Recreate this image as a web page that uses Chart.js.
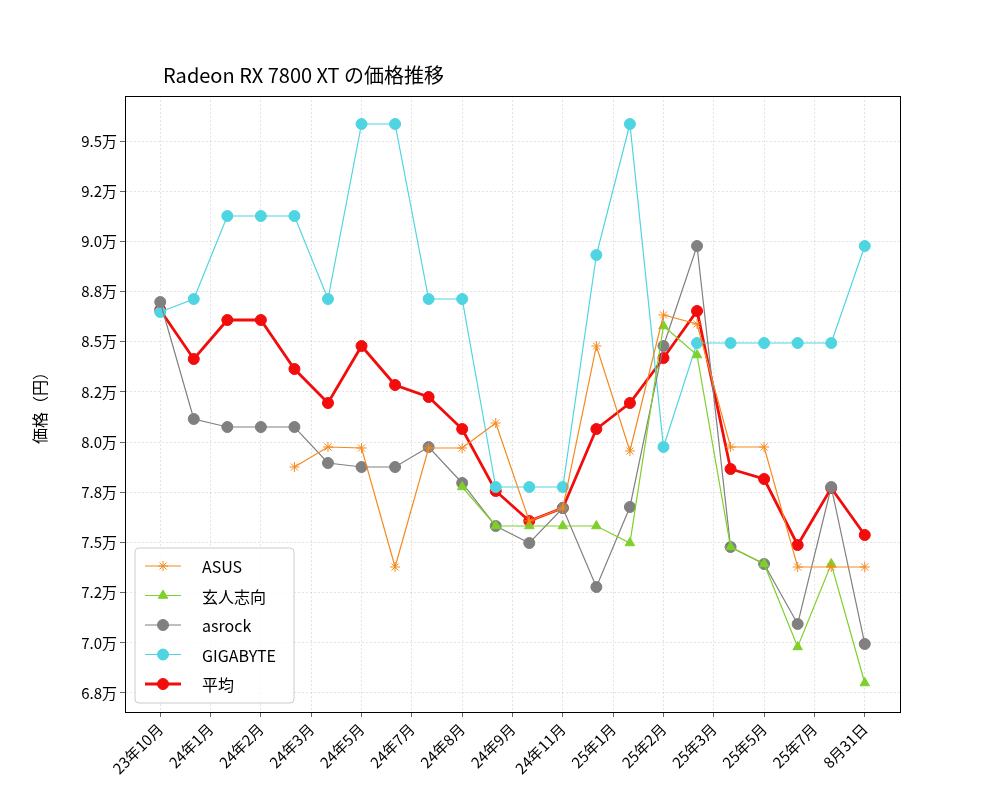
<!DOCTYPE html>
<html><head><meta charset="utf-8">
<script src="https://cdn.jsdelivr.net/npm/chart.js@4.4.0/dist/chart.umd.min.js"></script>
<style>body{margin:0;background:#fff}canvas{display:block}</style>
</head><body>
<canvas id="c" width="1000" height="800"></canvas>
<script>
const titleText = "Radeon RX 7800 XT の価格推移";
const yAxisTitle = "価格（円）";
const xTickLabels = ["23年10月","24年1月","24年2月","24年3月","24年5月","24年7月","24年8月","24年9月","24年11月","25年1月","25年2月","25年3月","25年5月","25年7月","8月31日"];
const yTickValues = [67500,70000,72500,75000,77500,80000,82500,85000,87500,90000,92500,95000];
const yTickLabels = ["6.8万","7.0万","7.2万","7.5万","7.8万","8.0万","8.2万","8.5万","8.8万","9.0万","9.2万","9.5万"];
const asus = [null,null,null,null,78759,79756,79706,73777,79706,79706,80951,76069,76717,84788,79556,86332,85884,79756,79756,73777,73777,73777];
const kurouto = [null,null,null,null,null,null,null,null,null,77763,75820,75820,75820,75820,74973,85784,84339,74774,73927,69792,73927,67998];
const asrock = [86980,81151,80752,80752,80752,78959,78759,78759,79756,77962,75820,74973,76717,72781,76767,84788,89770,74774,73927,70938,77763,69941];
const gigabyte = [86481,87129,91264,91264,91264,87129,95848,95848,87129,87129,77763,77763,77763,89321,95848,79756,84937,84937,84937,84937,84937,89770];
const average = [86581,84140,86083,86083,83642,81948,84788,82845,82247,80652,77564,76069,76717,80652,81948,84190,86531,78660,78161,74873,77713,75372];

const toPts = a => a.map((v,i)=>({x:i,y:v}));
const ds = (label, data, color, style, lw, r) => ({label, data: toPts(data), borderColor: color, backgroundColor: color,
  pointStyle: style, borderWidth: lw, pointRadius: r, pointHoverRadius: r, pointBorderWidth: 1, spanGaps: false, tension: 0});

const overlay = {
  id: 'overlay',
  afterDraw(chart) {
    const ctx = chart.ctx, a = chart.chartArea;
    ctx.save();
    ctx.strokeStyle = '#000'; ctx.lineWidth = 1;
    ctx.strokeRect(a.left+0.5, a.top+0.5, a.right-a.left, a.bottom-a.top);
    ctx.fillStyle = '#000';
    ctx.font = '20px "Noto Sans CJK JP"';
    ctx.textBaseline = 'alphabetic';
    ctx.fillText(titleText, 163, 83);
    ctx.save();
    ctx.translate(40, 404); ctx.rotate(-Math.PI/2);
    ctx.font = '16px "Noto Sans CJK JP"'; ctx.textAlign = 'center'; ctx.textBaseline = 'middle';
    ctx.fillText(yAxisTitle, 0, 0);
    ctx.restore();
    // legend
    const lx = 135, ly = 548, lw = 159, lh = 155;
    ctx.fillStyle = 'rgba(255,255,255,0.8)';
    ctx.strokeStyle = '#ccc';
    ctx.beginPath(); ctx.roundRect(lx, ly, lw, lh, 4); ctx.fill(); ctx.stroke();
    ctx.font = '16px "Noto Sans CJK JP"';
    ctx.textBaseline = 'middle';
    chart.data.datasets.forEach((d, i) => {
      const y = 566 + i * 29.5;
      ctx.strokeStyle = d.borderColor; ctx.lineWidth = d.borderWidth;
      ctx.beginPath(); ctx.moveTo(145, y); ctx.lineTo(181, y); ctx.stroke();
      ctx.fillStyle = d.borderColor; ctx.strokeStyle = d.borderColor; ctx.lineWidth = 1;
      Chart.helpers.drawPoint(ctx, {pointStyle: d.pointStyle, radius: d.pointRadius, borderWidth: 1, rotation: 0}, 163, y);
      ctx.fillStyle = '#000';
      ctx.fillText(d.label, 202, y + 1);
    });
    ctx.restore();
  }
};

new Chart(document.getElementById('c'), {
  type: 'line',
  data: { datasets: [
    ds('ASUS', asus, '#f5891f', 'star', 1.2, 5),
    ds('玄人志向', kurouto, '#7ed02a', 'triangle', 1.2, 5.5),
    ds('asrock', asrock, '#808080', 'circle', 1.2, 5.5),
    ds('GIGABYTE', gigabyte, '#4fd5e1', 'circle', 1.2, 5.5),
    ds('平均', average, '#f20c0c', 'circle', 2.8, 5.5)
  ]},
  options: {
    responsive: false, animation: false,
    layout: { padding: { top: 96, right: 100, left: 0, bottom: 0 } },
    plugins: { legend: { display: false }, title: { display: false }, tooltip: { enabled: false } },
    scales: {
      x: {
        type: 'linear', min: -1.05, max: 22.05,
        afterBuildTicks(s) { s.ticks = xTickLabels.map((_, i) => ({ value: i * 1.5 })); },
        afterFit(s) { s.height = 88; },
        ticks: { autoSkip: false, maxRotation: 45, minRotation: 45, color: '#000',
          font: { family: '"Noto Sans CJK JP"', size: 15 },
          callback: (v, i) => xTickLabels[i] },
        grid: { color: 'rgba(0,0,0,0.18)', tickColor: '#000', tickLength: 5, lineWidth: 0.6 },
        border: { color: '#000', dash: [2, 2] }
      },
      y: {
        min: 66553, max: 97243,
        afterBuildTicks(s) { s.ticks = yTickValues.map(v => ({ value: v })); },
        afterFit(s) { s.width = 125; },
        ticks: { color: '#000', font: { family: '"Noto Sans CJK JP"', size: 15 },
          callback: (v, i) => yTickLabels[i] },
        grid: { color: 'rgba(0,0,0,0.18)', tickColor: '#000', tickLength: 5, lineWidth: 0.6 },
        border: { color: '#000', dash: [2, 2] }
      }
    }
  },
  plugins: [overlay]
});
</script>
</body></html>
